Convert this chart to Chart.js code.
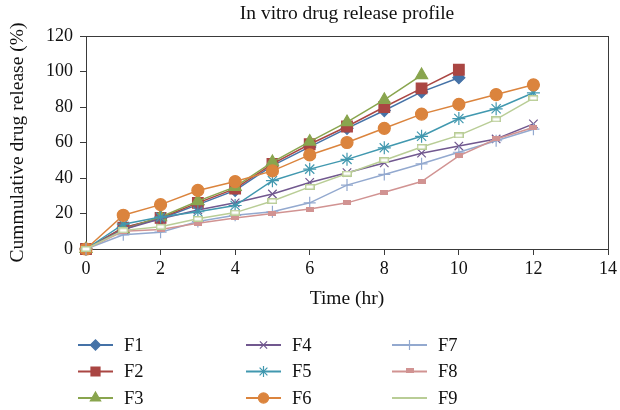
<!DOCTYPE html>
<html>
<head>
<meta charset="utf-8">
<script src="https://cdn.jsdelivr.net/npm/chart.js@4/dist/chart.umd.min.js"></script>
<style>
  html, body { margin: 0; padding: 0; background: #fff; }
  #wrap { width: 620px; height: 410px; }
</style>
</head>
<body>
<div id="wrap"><canvas id="release_chart" width="620" height="410"></canvas></div>
<script>
// time points (hr)
const hours = [0, 1, 2, 3, 4, 5, 6, 7, 8, 9, 10, 11, 12];
const xTicks = [0, 2, 4, 6, 8, 10, 12, 14];
const yTicks = [0, 20, 40, 60, 80, 100, 120];

// cumulative drug release (%) per formulation
const f1 = [0, 12, 17, 25, 33, 47, 57.5, 68, 78, 88.5, 96.5];
const f2 = [0, 12, 17.5, 26, 34, 48, 59, 69, 80, 90.5, 101];
const f3 = [0, 11, 18, 27, 35, 49, 60.5, 71.5, 84, 98];
const f4 = [0, 11, 17, 22, 26, 31, 37.5, 43, 48.5, 54, 58, 62, 70.5];
const f5 = [0, 14, 18, 21, 24.5, 38.5, 45, 50.5, 57, 63.5, 73.5, 79, 88];
const f6 = [0, 19, 25, 33, 38, 44, 53, 60, 68, 76, 81.5, 87, 92.5];
const f7 = [0, 8, 9.5, 15.5, 19, 21, 26, 36, 42, 48, 54.5, 61, 67.5];
const f8 = [0, 10, 11, 14.5, 17.5, 20, 22.5, 26, 32, 38, 52.5, 62, 68.5];
const f9 = [0, 10.5, 12.5, 17, 20.5, 27, 35, 42.5, 50, 57.5, 64, 73, 85];

const names = ['F1', 'F2', 'F3', 'F4', 'F5', 'F6', 'F7', 'F8', 'F9'];
const series = [f1, f2, f3, f4, f5, f6, f7, f8, f9];
const colors = ['#4572A7', '#AA4643', '#89A54E', '#71588F', '#4198AF',
                '#DB843D', '#93A9CF', '#D19392', '#B9CD96'];

const SERIF = '"Liberation Serif", "DejaVu Serif", serif';

// flat little bar markers used by F8 / F9
function barMarker(w, h, color, hollow) {
  const c = document.createElement('canvas');
  c.width = w; c.height = h;
  const g = c.getContext('2d');
  if (hollow) {
    g.strokeStyle = color;
    g.lineWidth = 1.5;
    g.fillStyle = '#fff';
    g.fillRect(0.75, 0.75, w - 1.5, h - 1.5);
    g.strokeRect(0.75, 0.75, w - 1.5, h - 1.5);
  } else {
    g.fillStyle = color;
    g.fillRect(0, 0, w, h);
  }
  return c;
}

const styles = ['rectRot', 'rect', 'triangle', 'crossRot', 'star', 'circle', 'cross',
                barMarker(8, 5, colors[7], false), barMarker(10, 6, colors[8], true)];
const radii = [6, 7.5, 7, 6, 6.5, 6, 6, 5, 5];
const noLegendMarker = ['F9'];

const datasets = names.map(function(name, i) {
  return {
    label: name,
    data: series[i].map(function(v, k) { return {x: hours[k], y: v}; }),
    borderColor: colors[i],
    backgroundColor: colors[i],
    pointStyle: styles[i],
    pointRadius: radii[i],
    pointHoverRadius: radii[i],
    pointBorderWidth: 1.2,
    borderWidth: 1.5,
    tension: 0,
    clip: false,
    order: names.length - i
  };
});

// box round the plot area
const frame = {
  id: 'frame',
  beforeDatasetsDraw: function(chart) {
    const a = chart.chartArea, ctx = chart.ctx;
    ctx.save();
    ctx.strokeStyle = '#3a3a3a';
    ctx.lineWidth = 1;
    ctx.strokeRect(a.left + 0.5, a.top + 0.5, a.right - a.left, a.bottom - a.top);
    ctx.restore();
  }
};

// three column legend under the chart
const colX = [78, 246, 392];
const rowY = [345, 371.5, 398];
const columnLegend = {
  id: 'columnLegend',
  afterDraw: function(chart) {
    const ctx = chart.ctx;
    ctx.save();
    chart.data.datasets.forEach(function(ds, i) {
      const x = colX[Math.floor(i / 3)];
      const y = rowY[i % 3];
      ctx.strokeStyle = ds.borderColor;
      ctx.fillStyle = ds.backgroundColor;
      ctx.lineWidth = 2;
      ctx.beginPath();
      ctx.moveTo(x, y);
      ctx.lineTo(x + 35, y);
      ctx.stroke();
      if (noLegendMarker.indexOf(ds.label) < 0) {
        ctx.lineWidth = 1.2;
        Chart.helpers.drawPoint(ctx, {
          pointStyle: ds.pointStyle,
          radius: ds.pointRadius * 0.85,
          rotation: 0,
          borderWidth: 1.2
        }, x + 17.5, ds.label === 'F8' ? y - 1 : y);
      }
      ctx.fillStyle = '#111';
      ctx.font = '18.5px ' + SERIF;
      ctx.textBaseline = 'middle';
      ctx.textAlign = 'left';
      ctx.fillText(ds.label, x + 46, y + 1);
    });
    ctx.restore();
  }
};

const axisColor = '#3a3a3a';

const config = {
  type: 'line',
  data: { datasets: datasets },
  options: {
    responsive: false,
    animation: false,
    layout: { padding: { left: 0, right: 11, top: 0, bottom: 96 } },
    plugins: {
      legend: { display: false },
      tooltip: { enabled: false },
      title: {
        display: true,
        fullSize: false,
        text: 'In vitro drug release profile',
        color: '#111',
        font: { family: SERIF, size: 19.5, weight: 'normal', lineHeight: 1.2 },
        padding: { top: 2, bottom: 10.6 }
      }
    },
    scales: {
      x: {
        type: 'linear',
        min: 0,
        max: 14,
        afterBuildTicks: function(scale) {
          scale.ticks = xTicks.map(function(v) { return {value: v}; });
        },
        afterFit: function(scale) { scale.height = 65; },
        grid: { drawOnChartArea: false, color: axisColor, tickLength: 6 },
        border: { color: axisColor },
        ticks: { color: '#111', font: { family: SERIF, size: 18 }, padding: 3, maxRotation: 0 },
        title: {
          display: true,
          text: 'Time (hr)',
          color: '#111',
          font: { family: SERIF, size: 19.5, lineHeight: 1.2 },
          padding: { top: 0, bottom: 3 }
        }
      },
      y: {
        min: 0,
        max: 120,
        afterBuildTicks: function(scale) {
          scale.ticks = yTicks.map(function(v) { return {value: v}; });
        },
        afterFit: function(scale) { scale.width = 86; },
        grid: { drawOnChartArea: false, color: axisColor, tickLength: 6 },
        border: { color: axisColor },
        ticks: { color: '#111', font: { family: SERIF, size: 18 }, padding: 7 },
        title: {
          display: true,
          text: 'Cummulative drug release (%)',
          color: '#111',
          font: { family: SERIF, size: 19.5, lineHeight: 1.2 },
          padding: { top: 6, bottom: 0 }
        }
      }
    }
  },
  plugins: [frame, columnLegend]
};

const release_chart = new Chart(document.getElementById('release_chart'), config);
</script>
</body>
</html>
